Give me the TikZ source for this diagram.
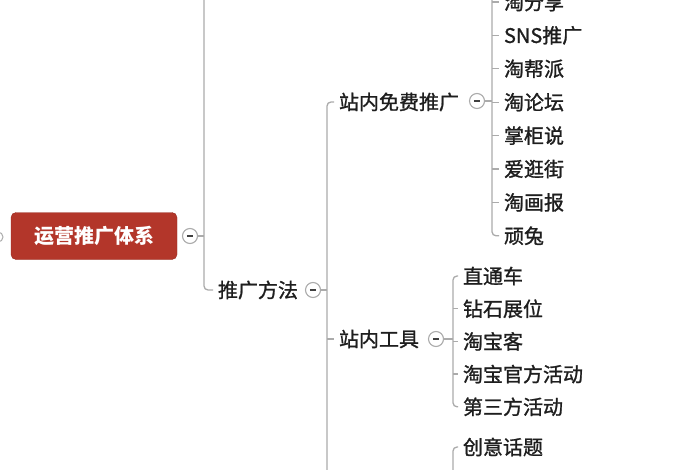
\documentclass[tikz,border=0pt]{standalone}
\usepackage{fontspec}
\setmainfont{Noto Sans CJK SC}
\newfontfamily\topicfont[FakeBold=1.2]{Noto Sans CJK SC}
\definecolor{rootred}{HTML}{B3362A}
\definecolor{linkgray}{HTML}{ABABAB}
\definecolor{inkgray}{HTML}{1E1E1E}
\begin{document}
\begin{tikzpicture}[x=1pt,y=-1pt,inner sep=0pt,outer sep=0pt,
rootbox/.style={draw=rootred!85!black,fill=rootred,rounded corners=5pt,minimum width=166pt,minimum height=47pt,text=white,font=\fontsize{20}{22}\selectfont\bfseries},
topic/.style={anchor=west,inner xsep=5pt,text=inkgray,font=\topicfont\fontsize{20}{22}\selectfont},
fold/.style={draw=linkgray,line width=1.1pt,circle,minimum size=15pt,fill=white,
  path picture={\draw[line width=1.6pt,inkgray!85] ([xshift=-3.2pt]path picture bounding box.center) -- ([xshift=3.2pt]path picture bounding box.center);}},
link/.style={draw=linkgray,line width=1.3pt}]
\useasboundingbox (0,0) rectangle (700,470);
% root
\node[rootbox] (root) at (94,236) {运营推广体系};
\node[draw=linkgray,line width=1pt,circle,minimum size=10pt] (lfold) at (-2,237) {};
\node[fold] (rfold) at (190,236) {};
\coordinate (rbus) at (204,236);
\coordinate (rtop) at (204,-12);
% second level
\node[topic] (method) at (213,290) {推广方法};
\node[fold] (mfold) at (313,290) {};
\coordinate (mbus) at (327,290);
\coordinate (mbot) at (327,485);
% third level
\node[topic] (free) at (334,102) {站内免费推广};
\node[fold] (ffold) at (477,101) {};
\coordinate (fbus) at (492,101);
\coordinate (ftop) at (492,-12);
\node[topic] (tool) at (334,339) {站内工具};
\node[fold] (tfold) at (436,339) {};
\coordinate (tbus) at (453,339);
\coordinate (ibot) at (453,485);
% leaves
\foreach \name [count=\i from 0] in {淘分享,SNS推广,淘帮派,淘论坛,掌柜说,爱逛街,淘画报,顽兔}
  \node[topic] (f\i) at (499,2+33.4*\i) {\name};
\foreach \name [count=\i from 0] in {直通车,钻石展位,淘宝客,淘宝官方活动,第三方活动}
  \node[topic] (t\i) at (458,276+32.7*\i) {\name};
\node[topic] (idea) at (458,447) {创意话题};
% links
\draw[link] (rfold.east) -- (rbus);
\draw[link,rounded corners=4pt] (rtop) -- (rbus) |- (method.west);
\draw[link] (mfold.east) -- (mbus);
\draw[link,rounded corners=4pt] (free.west) -| (mbot);
\draw[link] (mbus |- tool.west) -- (tool.west);
\draw[link] (ffold.east) -- (fbus);
\draw[link,rounded corners=4pt] (ftop) |- (f7.west);
\foreach \i in {0,...,6}
  \draw[link] (fbus |- f\i.west) -- (f\i.west);
\draw[link] (tfold.east) -- (tbus);
\draw[link,rounded corners=4pt] (t0.west) -| (tbus) |- (t4.west);
\foreach \i in {1,2,3}
  \draw[link] (tbus |- t\i.west) -- (t\i.west);
\draw[link,rounded corners=4pt] (idea.west) -| (ibot);
\end{tikzpicture}
\end{document}
